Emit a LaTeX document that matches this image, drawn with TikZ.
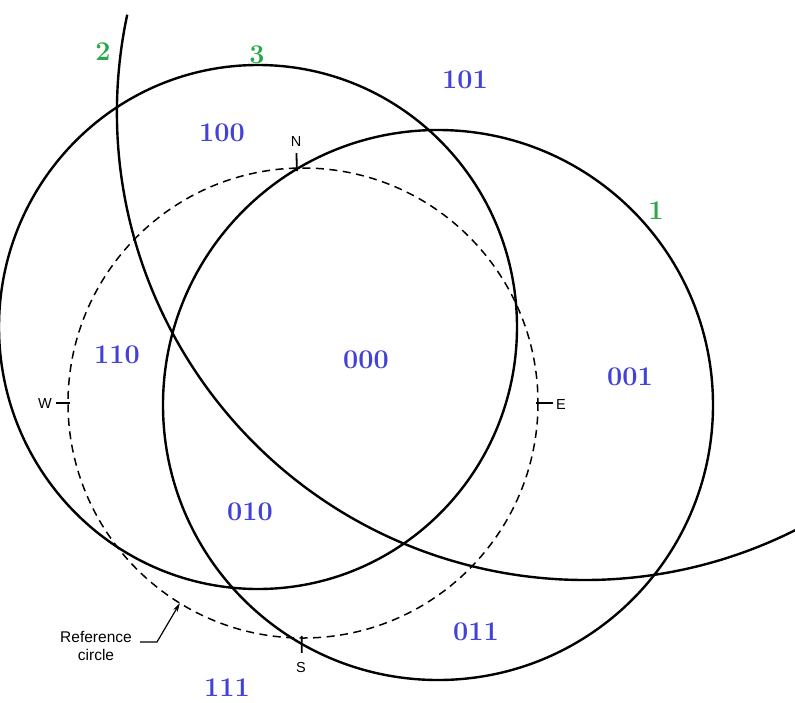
\documentclass[tikz,border=0pt]{standalone}
\usepackage{fontspec}
\newfontfamily\labsans{Liberation Sans}
\usetikzlibrary{arrows.meta,calc}
\definecolor{codeblue}{RGB}{66,66,214}
\definecolor{ringgreen}{RGB}{40,168,72}
\begin{document}
\begin{tikzpicture}[x=1pt,y=-1pt,
  ring/.style={draw=black,line width=2.4pt},
  refring/.style={draw=black,line width=1.5pt,dash pattern=on 8pt off 5.5pt},
  compasstick/.style={draw=black,line width=1.8pt},
  codelabel/.style={text=codeblue,font=\fontsize{27}{27}\selectfont\bfseries,inner sep=0pt},
  ringlabel/.style={text=ringgreen,font=\fontsize{27}{27}\selectfont\bfseries,inner sep=0pt},
  compasslabel/.style={font=\labsans\fontsize{14.5}{14.5}\selectfont,inner sep=0pt},
  notelabel/.style={font=\labsans\fontsize{15.5}{18}\selectfont,align=center,inner sep=0pt},
  pointer/.style={draw=black,line width=1.2pt,-{Stealth[length=9pt,width=5pt]}}
]
\useasboundingbox (0,0) rectangle (795,702);
\clip (0,0) rectangle (795,702);
\fill[white] (0,0) rectangle (795,702);

% centres
\coordinate (cref) at (303,403);
\coordinate (cone) at (438,405);
\coordinate (cthree) at (258,327);
\coordinate (ctwo) at (585,112);

% reference circle
\draw[refring] (cref) circle[radius=235];

% circle 1
\draw[ring] (cone) circle[radius=275];
% circle 3
\draw[ring] (cthree) ellipse[x radius=259,y radius=262];
% circle 2 (arc)
\draw[ring] ($(ctwo)+(192:468)$) arc[start angle=192,end angle=55,radius=468];

% compass ticks
\draw[compasstick] ($(cref)+(-91.5:232)$) -- ($(cref)+(-91.5:250)$);
\draw[compasstick] ($(cref)+(90.3:233)$) -- ($(cref)+(90.3:250)$);
\draw[compasstick] ($(cref)+(180:233)$) -- ($(cref)+(180:247)$);
\draw[compasstick] ($(cref)+(0:233)$) -- ($(cref)+(0:250)$);

\node[compasslabel] (nlab) at (296,142) {N};
\node[compasslabel] (slab) at (301,667) {S};
\node[compasslabel] (wlab) at (45,404) {W};
\node[compasslabel] (elab) at (561,405) {E};

% reference circle note
\node[notelabel] (reflabel) at (96,646) {Reference\\circle};
\coordinate (leadstart) at (140,642);
\coordinate (leadbend) at (157,642);
\coordinate (refpt) at ($(cref)+(121.6:235)$);
\draw[pointer] (leadstart) -- (leadbend) -- (refpt);

% ring numbers
\node[ringlabel] (r2) at (103,52) {2};
\node[ringlabel] (r3) at (257,55) {3};
\node[ringlabel] (r1) at (656,211) {1};

% region codes
\node[codelabel] (k101) at (465,80) {101};
\node[codelabel] (k100) at (222,133) {100};
\node[codelabel] (k110) at (117,355) {110};
\node[codelabel] (k000) at (366,360) {000};
\node[codelabel] (k001) at (630,377) {001};
\node[codelabel] (k010) at (250,512) {010};
\node[codelabel] (k011) at (476,632) {011};
\node[codelabel] (k111) at (227,688) {111};
\end{tikzpicture}
\end{document}
